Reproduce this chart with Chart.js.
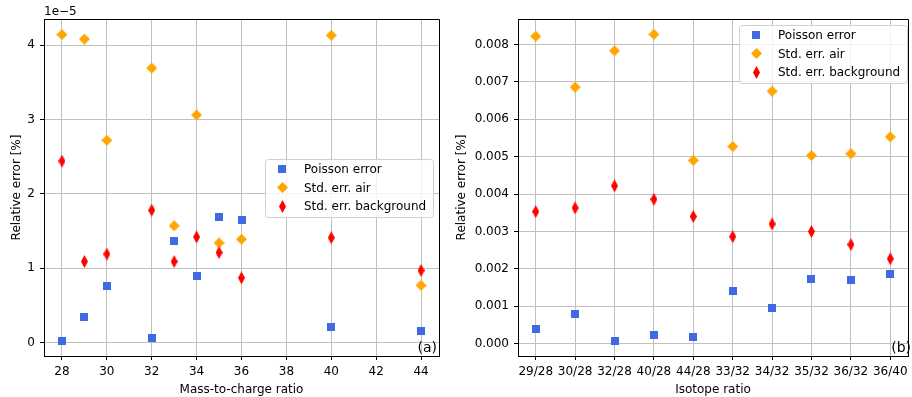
<!DOCTYPE html>
<html>
<head>
<meta charset="utf-8">
<script src="https://cdn.jsdelivr.net/npm/chart.js@4"></script>
<style>
  html, body { margin: 0; padding: 0; background: #fff; overflow: hidden; }
  #wrap { position: relative; width: 912px; height: 397px; }
  .box { position: absolute; top: 0; height: 397px; }
  #boxA { left: 0; width: 455px; }
  #boxB { left: 455px; width: 460px; }
</style>
</head>
<body>
<div id="wrap">
  <div class="box" id="boxA"><canvas id="chartA"></canvas></div>
  <div class="box" id="boxB"><canvas id="chartB"></canvas></div>
</div>
<script>
// (a) mass-to-charge ratios, values in units of 1e-5
const massRatios = [28, 29, 30, 32, 33, 34, 35, 36, 40, 44];
const poissonA = [0.027, 0.35, 0.76, 0.06, 1.36, 0.89, 1.69, 1.65, 0.21, 0.16];
const airA = [4.14, 4.08, 2.72, 3.69, 1.57, 3.06, 1.34, 1.39, 4.13, 0.77];
const bgA = [2.44, 1.09, 1.19, 1.78, 1.09, 1.42, 1.21, 0.87, 1.41, 0.97];
const xTicksA = [28, 30, 32, 34, 36, 38, 40, 42, 44];
const yTicksA = [0, 1, 2, 3, 4];

// (b) isotope ratios
const isotopeRatios = ['29/28', '30/28', '32/28', '40/28', '44/28', '33/32', '34/32', '35/32', '36/32', '36/40'];
const poissonB = [0.00039, 0.00079, 0.00008, 0.00024, 0.00019, 0.00141, 0.00094, 0.00174, 0.00170, 0.00187];
const airB = [0.00822, 0.00686, 0.00783, 0.00827, 0.00490, 0.00527, 0.00675, 0.00503, 0.00508, 0.00553];
const bgB = [0.00353, 0.00363, 0.00422, 0.00386, 0.00340, 0.00286, 0.00320, 0.00300, 0.00265, 0.00227];
const yTicksB = [0, 0.001, 0.002, 0.003, 0.004, 0.005, 0.006, 0.007, 0.008];

const seriesNames = ['Poisson error', 'Std. err. air', 'Std. err. background'];
const FONT = "'DejaVu Sans', sans-serif";

// marker images
function makeMarker(w, h, color, shape) {
  const c = document.createElement('canvas');
  c.width = w; c.height = h;
  const g = c.getContext('2d');
  g.fillStyle = color;
  if (shape === 'square') {
    g.fillRect(0, 0, w, h);
  } else {
    g.beginPath();
    g.moveTo(w / 2, 0);
    g.lineTo(w, h / 2);
    g.lineTo(w / 2, h);
    g.lineTo(0, h / 2);
    g.closePath();
    g.fill();
  }
  return c;
}
const squareMk = makeMarker(8, 8, '#4169e1', 'square');
const diamondMk = makeMarker(11, 11, '#ffa500', 'diamond');
const thinMk = makeMarker(7, 13, '#ff0000', 'diamond');
const markers = [squareMk, diamondMk, thinMk];

function pts(xs, ys) {
  return xs.map((x, i) => ({ x: x, y: ys[i] }));
}

// frame, legend box and label text
function extrasPlugin(opts) {
  return {
    id: 'extras',
    afterDraw(chart) {
      const ctx = chart.ctx;
      const a = chart.chartArea;
      ctx.save();
      ctx.strokeStyle = '#000';
      ctx.lineWidth = 1;
      ctx.beginPath();
      ctx.moveTo(a.left, a.top + 0.5);
      ctx.lineTo(a.right + 0.5, a.top + 0.5);
      ctx.lineTo(a.right + 0.5, a.bottom);
      ctx.stroke();

      // legend
      const lx = opts.legendX, ly = opts.legendY, lw = 168, lh = 58;
      ctx.fillStyle = 'rgba(255,255,255,0.8)';
      ctx.strokeStyle = '#d0d0d0';
      ctx.beginPath();
      ctx.roundRect(lx + 0.5, ly + 0.5, lw, lh, 3);
      ctx.fill();
      ctx.stroke();
      const rows = [10, 28.5, 47];
      ctx.font = '12px ' + FONT;
      ctx.fillStyle = '#000';
      ctx.textBaseline = 'middle';
      seriesNames.forEach((name, i) => {
        const m = markers[i];
        ctx.drawImage(m, Math.round(lx + 17 - m.width / 2), Math.round(ly + rows[i] - m.height / 2));
        ctx.fillStyle = '#000';
        ctx.fillText(name, lx + 39, ly + rows[i] + 1);
      });

      // panel letter
      ctx.font = '14px ' + FONT;
      ctx.textAlign = 'right';
      ctx.textBaseline = 'alphabetic';
      ctx.fillText(opts.letter, opts.letterX, a.bottom - 4);

      if (opts.offsetText) {
        ctx.font = '12px ' + FONT;
        ctx.textAlign = 'left';
        ctx.fillText(opts.offsetText, a.left, a.top - 4);
      }
      ctx.restore();
    }
  };
}

function baseScale() {
  return {
    type: 'linear',
    grid: { color: '#c0c0c0', lineWidth: 1, tickColor: '#000', tickLength: 4, drawTicks: true },
    border: { color: '#000', width: 1 },
    ticks: { color: '#000', font: { family: FONT, size: 12 }, padding: 5, autoSkip: false, maxRotation: 0 },
    title: { display: true, color: '#000', font: { family: FONT, size: 12 } }
  };
}

function datasets(xs, p, a, b) {
  const ys = [p, a, b];
  return ys.map((y, i) => ({
    label: seriesNames[i],
    data: pts(xs, y),
    pointStyle: markers[i],
    pointRadius: 6,
    pointHoverRadius: 6,
    order: 2 - i
  }));
}

// chart (a)
const xA = baseScale();
xA.min = 27.2; xA.max = 44.8;
xA.afterBuildTicks = s => { s.ticks = xTicksA.map(v => ({ value: v })); };
xA.afterFit = s => { s.height = 41; };
xA.title.text = 'Mass-to-charge ratio';
xA.title.padding = { top: 0, bottom: 0 };
xA.ticks.callback = v => String(v);

const yA = baseScale();
yA.min = -0.18; yA.max = 4.35;
yA.afterBuildTicks = s => { s.ticks = yTicksA.map(v => ({ value: v })); };
yA.afterFit = s => { s.width = 44; };
yA.title.text = 'Relative error [%]';
yA.title.padding = { top: 10, bottom: 0 };
yA.ticks.callback = v => String(v);

new Chart(document.getElementById('chartA'), {
  type: 'scatter',
  data: { datasets: datasets(massRatios, poissonA, airA, bgA) },
  options: {
    responsive: true,
    maintainAspectRatio: false,
    animation: false,
    layout: { padding: { top: 19, right: 16, left: 0, bottom: 0 } },
    plugins: { legend: { display: false }, tooltip: { enabled: false } },
    scales: { x: xA, y: yA }
  },
  plugins: [extrasPlugin({ legendX: 265, legendY: 159, letter: '(a)', letterX: 437, offsetText: '1e\u22125' })]
});

// chart (b)
const xB = baseScale();
xB.min = -0.45; xB.max = 9.45;
xB.afterBuildTicks = s => { s.ticks = isotopeRatios.map((_, i) => ({ value: i })); };
xB.afterFit = s => { s.height = 41; };
xB.title.text = 'Isotope ratio';
xB.title.padding = { top: 0, bottom: 0 };
xB.ticks.callback = v => isotopeRatios[v];

const yB = baseScale();
yB.min = -0.00033; yB.max = 0.00868;
yB.afterBuildTicks = s => { s.ticks = yTicksB.map(v => ({ value: v })); };
yB.afterFit = s => { s.width = 63; };
yB.title.text = 'Relative error [%]';
yB.title.padding = { top: 0, bottom: 0 };
yB.ticks.callback = v => v.toFixed(3);

new Chart(document.getElementById('chartB'), {
  type: 'scatter',
  data: { datasets: datasets(isotopeRatios.map((_, i) => i), poissonB, airB, bgB) },
  options: {
    responsive: true,
    maintainAspectRatio: false,
    animation: false,
    layout: { padding: { top: 19, right: 2, left: 0, bottom: 0 } },
    plugins: { legend: { display: false }, tooltip: { enabled: false } },
    scales: { x: xB, y: yB }
  },
  plugins: [extrasPlugin({ legendX: 284, legendY: 25, letter: '(b)', letterX: 456 })]
});
</script>
</body>
</html>
